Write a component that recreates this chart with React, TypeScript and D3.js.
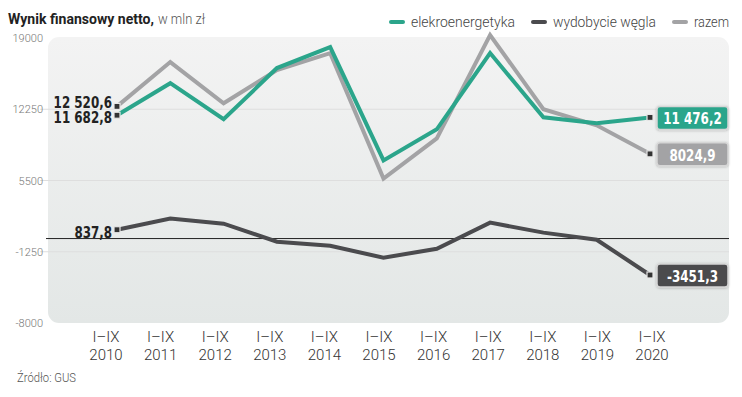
import React from 'react';
import * as d3 from 'd3';

const years = ['2010', '2011', '2012', '2013', '2014', '2015', '2016', '2017', '2018', '2019', '2020'];
const elekroenergetyka = [11682.8, 14720, 11300, 16150, 18140, 7400, 10350, 17570, 11490, 10920, 11476.2];
const wydobycie = [837.8, 1890, 1410, -300, -680, -1820, -965, 1510, 560, -110, -3451.3];
const razem = [12520.6, 16720, 12820, 15960, 17570, 5690, 9490, 19285, 12250, 10730, 8024.9];
const yTicks = [19000, 12250, 5500, -1250, -8000];

const TEAL = '#2ba58b';
const DARK = '#4b4b4e';
const GREY = '#a3a3a5';

const numFont = '"DejaVu Sans", sans-serif';

const fmt = (v: number) => {
    const s = Math.abs(v).toFixed(1).replace('.', ',');
    const [int, dec] = s.split(',');
    const grouped = int.length > 4 ? int.replace(/\B(?=(\d{3})+(?!\d))/g, ' ') : int;
    return (v < 0 ? '-' : '') + grouped + ',' + dec;
};

// the reference uses a condensed bold face; squeeze DejaVu to that width
const numWidth = (s: string) =>
    s.split('').reduce((w, c) => w + (/\d/.test(c) ? 8.4 : c === '-' ? 5 : 4), 0);

const App: React.FC = () => {
    const width = 742;
    const height = 397;

    const y = d3.scaleLinear().domain([-8000, 19000]).range([323, 38]);
    const x = d3.scalePoint<string>().domain(years).range([117, 650]);
    // labels under the axis sit a bit apart from the points
    const xLab = d3.scalePoint<string>().domain(years).range([106, 652]);

    const line = d3.line<number>()
        .x((_, i) => x(years[i]) as number)
        .y(d => y(d));

    const series = [
        { name: 'razem', values: razem, color: GREY },
        { name: 'elekroenergetyka', values: elekroenergetyka, color: TEAL },
        { name: 'wydobycie węgla', values: wydobycie, color: DARK },
    ];

    const legend = [
        { name: 'elekroenergetyka', color: TEAL, x: 391, w: 104 },
        { name: 'wydobycie węgla', color: DARK, x: 533, w: 103 },
        { name: 'razem', color: GREY, x: 674, w: 35 },
    ];

    const first = (arr: number[]) => arr[0];
    const last = (arr: number[]) => arr[arr.length - 1];

    const leftLabels = [
        { v: first(razem), dy: 2 },
        { v: first(elekroenergetyka), dy: 8 },
        { v: first(wydobycie), dy: 8 },
    ];
    const rightLabels = [
        { v: last(elekroenergetyka), color: TEAL },
        { v: last(razem), color: GREY },
        { v: last(wydobycie), color: DARK },
    ];

    const x0 = x(years[0]) as number;
    const x1 = x(years[years.length - 1]) as number;

    return (
        <svg width={width} height={height} style={{ position: 'absolute', left: 0, top: 0, background: '#fff' }}>
            <defs>
                <linearGradient id="bg" x1="0" y1="0" x2="0" y2="1">
                    <stop offset="0%" stopColor="#f3f3f3" />
                    <stop offset="100%" stopColor="#e3e7e6" />
                </linearGradient>
                <filter id="shadow" x="-20%" y="-30%" width="140%" height="160%">
                    <feDropShadow dx="0" dy="0.5" stdDeviation="0.8" floodColor="#000" floodOpacity="0.25" />
                </filter>
            </defs>

            {/* title */}
            <text x={8} y={24} fontFamily="Roboto, sans-serif" fontSize={14} fontWeight={700} fill="#222"
                textLength={146} lengthAdjust="spacingAndGlyphs">
                Wynik finansowy netto,
            </text>
            <text x={158} y={24} fontFamily="Roboto, sans-serif" fontSize={14} fontWeight={300} fill="#555"
                textLength={47} lengthAdjust="spacingAndGlyphs">
                w mln zł
            </text>

            {/* legend */}
            {legend.map(l => (
                <g key={l.name}>
                    <line x1={l.x} x2={l.x + 12} y1={22} y2={22} stroke={l.color} strokeWidth={4} strokeLinecap="round" />
                    <text x={l.x + 20} y={27} fontFamily="Roboto, sans-serif" fontSize={14} fontWeight={300} fill="#444"
                        textLength={l.w} lengthAdjust="spacingAndGlyphs">
                        {l.name}
                    </text>
                </g>
            ))}

            {/* plot background */}
            <rect x={48} y={37} width={681} height={286} rx={11} fill="url(#bg)" />

            {/* grid + y ticks */}
            {yTicks.map(t => (
                <g key={t}>
                    {t !== 19000 && t !== -8000 && (
                        <line x1={40} x2={729} y1={y(t)} y2={y(t)} stroke="#dedede" strokeWidth={1} />
                    )}
                    <text x={43} y={y(t) + 4} textAnchor="end" fontFamily="Roboto, sans-serif" fontSize={11} fontWeight={300} fill="#777">
                        {t}
                    </text>
                </g>
            ))}

            {/* zero line */}
            <line x1={46} x2={729} y1={y(0)} y2={y(0)} stroke="#222" strokeWidth={1} />

            {/* lines */}
            {series.map(s => (
                <path key={s.name} d={line(s.values) || undefined} fill="none" stroke={s.color}
                    strokeWidth={4} strokeLinejoin="miter" />
            ))}

            {/* end markers */}
            {series.map(s => (
                <g key={s.name + '-m'}>
                    <rect x={x0 - 3} y={y(first(s.values)) - 3} width={6} height={6} fill="#333" stroke="#e6e6e6" strokeWidth={1.2} />
                    <rect x={x1 - 3} y={y(last(s.values)) - 3} width={6} height={6} fill="#333" stroke="#e6e6e6" strokeWidth={1.2} />
                </g>
            ))}

            {/* left value labels */}
            {leftLabels.map(l => (
                <text key={l.v} x={112 - numWidth(fmt(l.v))} y={y(l.v) + l.dy} fontFamily={numFont}
                    fontSize={16} fontWeight={700} fill="#222"
                    textLength={numWidth(fmt(l.v))} lengthAdjust="spacingAndGlyphs">
                    {fmt(l.v)}
                </text>
            ))}

            {/* right value boxes */}
            {rightLabels.map(l => (
                <g key={l.v}>
                    <rect x={657} y={y(l.v) - 11} width={71} height={23} rx={3} fill={l.color}
                        stroke="#d6d6d6" strokeWidth={1.5} filter="url(#shadow)" />
                    <text x={692.5 - numWidth(fmt(l.v)) / 2} y={y(l.v) + 7} fontFamily={numFont}
                        fontSize={16} fontWeight={700} fill="#fff"
                        textLength={numWidth(fmt(l.v))} lengthAdjust="spacingAndGlyphs">
                        {fmt(l.v)}
                    </text>
                </g>
            ))}

            {/* x labels */}
            {years.map(yr => (
                <g key={yr} fontFamily="Roboto, sans-serif" fontSize={15} fontWeight={300} fill="#333" textAnchor="middle">
                    <text x={xLab(yr)} y={342}>I–IX</text>
                    <text x={xLab(yr)} y={360}>{yr}</text>
                </g>
            ))}

            {/* source */}
            <text x={17} y={382} fontFamily="Roboto, sans-serif" fontSize={12} fontWeight={300} fill="#555"
                textLength={59} lengthAdjust="spacingAndGlyphs">
                Źródło: GUS
            </text>
        </svg>
    );
};

export default App;
